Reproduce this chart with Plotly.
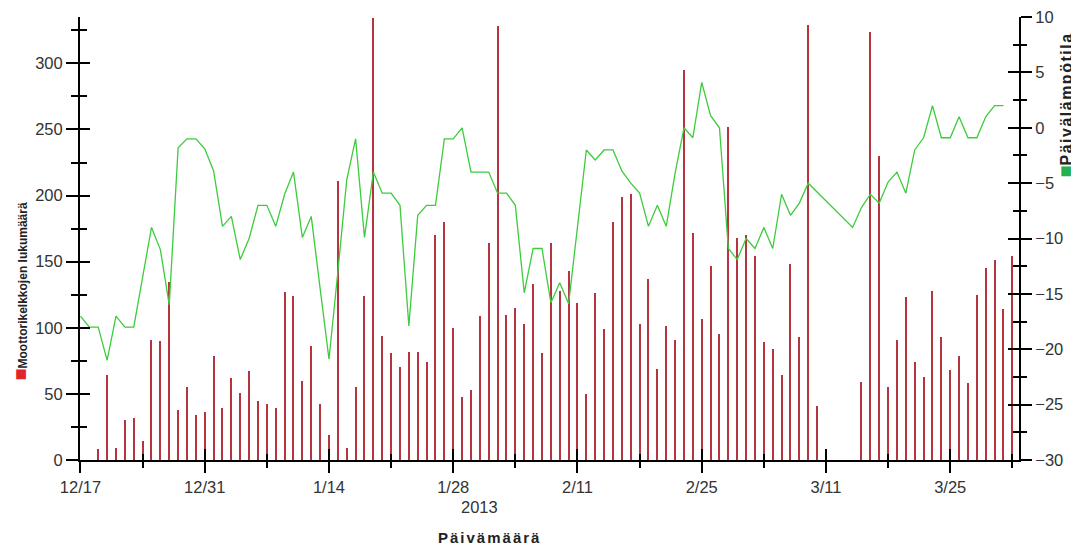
import plotly.graph_objects as go
import pandas as pd

# ---- data ----
count_dates = pd.date_range("2012-12-17", "2013-04-01", freq="D")
counts = (
    # Dec 17-31
    [None, None, 8, 64, 9, 30, 32, 14, 91, 90, 135, 38, 55, 34, 36]
    # Jan
    + [79, 39, 62, 51, 67, 45, 42, 39, 127, 124, 60, 86, 42, 19, 211, 9,
       55, 124, 334, 94, 81, 70, 82, 82, 74, 170, 180, 100, 48, 53, 109]
    # Feb
    + [164, 328, 110, 115, 103, 133, 81, 164, 128, 143, 119, 50, 126, 99,
       180, 199, 201, 103, 137, 69, 101, 91, 295, 172, 107, 147, 95, 252]
    # Mar
    + [168, 170, 154, 89, 84, 64, 148, 93, 329, 41, None, None, None, None,
       59, 324, 230, 55, 91, 123, 74, 63, 128, 93, 68, 79, 58, 125, 145, 151, 114]
    # Apr 1
    + [154]
)

temp_dates = pd.date_range("2012-12-17", "2013-03-31", freq="D")
temps = (
    [-17.0, -18.0, -18.0, -21.0, -17.0, -18.0, -18.0, -13.5, -9.0, -11.0,
     -16.0, -1.8, -1.0, -1.0, -1.9]
    + [-3.9, -8.9, -8.0, -11.9, -10.0, -7.0, -7.0, -8.9, -6.0, -4.0, -9.9,
       -8.0, -14.5, -20.9, -13.0, -4.7, -1.0, -9.9, -4.0, -5.9, -5.9, -7.0,
       -17.9, -7.9, -7.0, -7.0, -1.0, -1.0, 0.0, -4.0, -4.0]
    + [-4.0, -5.9, -5.9, -7.0, -14.9, -10.9, -10.9, -15.8, -14.0, -15.9,
       -8.9, -2.0, -2.9, -2.0, -2.0, -3.9, -5.0, -5.9, -8.9, -7.0, -8.9,
       -4.1, 0.0, -0.9, 4.1, 1.1, 0.0, -10.9]
    + [-11.9, -10.0, -10.9, -9.0, -10.9, -6.0, -7.9, -6.8, -5.0, None, None,
       None, None, -9.0, -7.2, -6.0, -6.8, -4.9, -4.0, -5.9, -2.0, -0.9, 2.0,
       -0.9, -0.9, 1.0, -0.9, -0.9, 1.0, 2.0, 2.0]
)

left_title = "Moottorikelkkojen lukumäärä"
right_title = "Päivälämpötila"
x_title = "Päivämäärä"
year_label = "2013"

assert len(counts) == len(count_dates)
assert len(temps) == len(temp_dates)

DAY = 86400000
FONT = "Liberation Sans, Arial, sans-serif"
TICKCOL = "#333333"
x_range = ["2012-12-16 22:40", "2013-04-01 18:00"]
y_range = [0, 335.05]
y2_range = [-30, 10.006]

fig = go.Figure()
fig.add_trace(go.Bar(
    x=count_dates, y=counts, width=0.12 * DAY,
    marker=dict(color="#b5343f", line=dict(width=0)),
    showlegend=False, xaxis="x", yaxis="y",
))
fig.add_trace(go.Scatter(
    x=temp_dates, y=temps, mode="lines", connectgaps=True,
    line=dict(color="#3ccc3c", width=1.3),
    showlegend=False, xaxis="x", yaxis="y2",
))
# empty helper traces so the inner-tick overlay axes are drawn
fig.add_trace(go.Scatter(x=[], y=[], xaxis="x2", yaxis="y3", showlegend=False))
fig.add_trace(go.Scatter(x=[], y=[], xaxis="x2", yaxis="y4", showlegend=False))

tickfont = dict(family=FONT, size=16.5, color=TICKCOL)

fig.update_layout(
    width=1071, height=537,
    margin=dict(l=72, r=60, t=9, b=85, autoexpand=False),
    paper_bgcolor="white", plot_bgcolor="white",
    bargap=0,
    xaxis=dict(
        type="date", range=x_range, tick0="2012-12-17", dtick=14 * DAY,
        tickformat="%-m/%-d", ticks="outside", ticklen=11, tickwidth=2,
        tickcolor="black", showline=True, linecolor="black", linewidth=2,
        showgrid=False, zeroline=False, tickfont=tickfont,
        ticklabeloverflow="allow", automargin=False,
        minor=dict(ticks="outside", ticklen=6, tickwidth=2, tickcolor="black",
                   dtick=7 * DAY, tick0="2012-12-17", showgrid=False),
    ),
    xaxis2=dict(
        type="date", range=x_range, overlaying="x", anchor="y", side="bottom",
        tick0="2012-12-17", dtick=14 * DAY, ticks="inside", ticklen=11,
        tickwidth=2, tickcolor="black", showticklabels=False, showline=False,
        showgrid=False, zeroline=False, automargin=False,
        minor=dict(ticks="inside", ticklen=6, tickwidth=2, tickcolor="black",
                   dtick=7 * DAY, tick0="2012-12-17", showgrid=False),
    ),
    yaxis=dict(
        range=y_range, tick0=0, dtick=50, ticks="outside", ticklen=12,
        tickwidth=2, tickcolor="black", showline=True, linecolor="black",
        linewidth=2, showgrid=False, zeroline=False, tickfont=tickfont,
        ticklabeloverflow="allow", automargin=False,
        minor=dict(ticks="outside", ticklen=7, tickwidth=2, tickcolor="black",
                   dtick=25, showgrid=False),
    ),
    yaxis2=dict(
        range=y2_range, overlaying="y", side="right", anchor="x", tick0=-30,
        dtick=5, ticks="outside", ticklen=11, tickwidth=2, tickcolor="black",
        showline=True, linecolor="black", linewidth=2, showgrid=False,
        zeroline=False, tickfont=tickfont, ticklabeloverflow="allow",
        automargin=False,
        minor=dict(ticks="outside", ticklen=6, tickwidth=2, tickcolor="black",
                   dtick=2.5, showgrid=False),
    ),
    yaxis3=dict(
        range=y_range, overlaying="y", side="left", anchor="x", tick0=0,
        dtick=50, ticks="inside", ticklen=10, tickwidth=2, tickcolor="black",
        showticklabels=False, showline=False, showgrid=False, zeroline=False,
        automargin=False,
        minor=dict(ticks="inside", ticklen=7, tickwidth=2, tickcolor="black",
                   dtick=25, showgrid=False),
    ),
    yaxis4=dict(
        range=y2_range, overlaying="y", side="right", anchor="x", tick0=-30,
        dtick=5, ticks="inside", ticklen=11, tickwidth=2, tickcolor="black",
        showticklabels=False, showline=False, showgrid=False, zeroline=False,
        automargin=False,
        minor=dict(ticks="inside", ticklen=6, tickwidth=2, tickcolor="black",
                   dtick=2.5, showgrid=False),
    ),
    annotations=[
        dict(text=year_label, xref="x", x="2013-01-31", yref="paper", y=-0.106,
             showarrow=False, font=dict(family=FONT, size=16.5, color=TICKCOL),
             xanchor="center", yanchor="middle"),
        dict(text="<b><span style='letter-spacing:2px'>" + x_title + "</span></b>",
             xref="paper", x=0.4366, yref="paper", y=-0.174, showarrow=False,
             font=dict(family=FONT, size=15, color="#222222"),
             xanchor="center", yanchor="middle"),
        dict(text="<span style='color:#e3242b;font-size:20px'>■</span><b>"
                  + left_title + "</b>",
             xref="paper", x=-0.064, yref="paper", y=0.38, textangle=-90,
             showarrow=False, font=dict(family=FONT, size=12, color="#222222"),
             xanchor="center", yanchor="middle"),
        dict(text="<span style='color:#22b14c;font-size:20px'>■</span><b>"
                  "<span style='letter-spacing:1.5px'>" + right_title + "</span></b>",
             xref="paper", x=1.049, yref="paper", y=0.80, textangle=-90,
             showarrow=False, font=dict(family=FONT, size=16, color="#222222"),
             xanchor="center", yanchor="middle"),
    ],
)

fig.write_html("out.html")
